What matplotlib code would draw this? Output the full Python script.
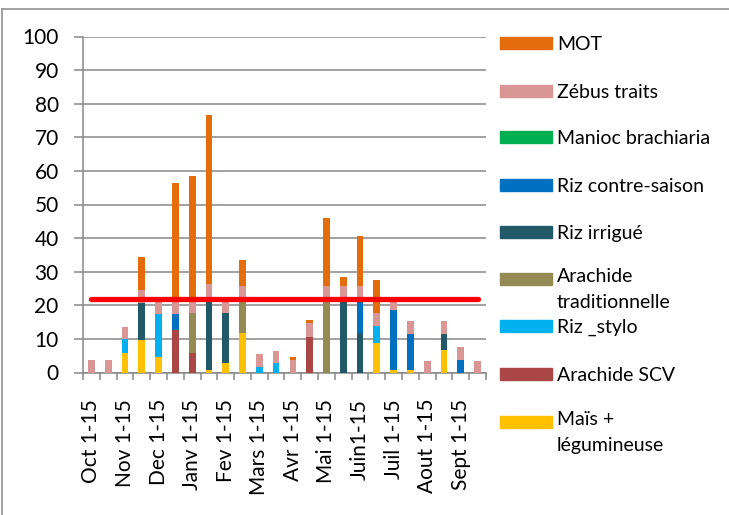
import numpy as np
import matplotlib.pyplot as plt
from matplotlib.patches import Rectangle
from matplotlib.lines import Line2D

plt.rcParams['font.family'] = ['Lato', 'DejaVu Sans']

# half-month periods, Oct -> Sept
periods = ['Oct 1-15', '', 'Nov 1-15', '', 'Dec 1-15', '', 'Janv 1-15', '',
           'Fev 1-15', '', 'Mars 1-15', '', 'Avr 1-15', '', 'Mai 1-15', '',
           'Juin1-15', '', 'Juil 1-15', '', 'Aout 1-15', '', 'Sept 1-15', '']

# working days per activity (stacked from bottom to top)
mais = [0, 0, 5.8, 9.8, 4.5, 0, 0, 0.7, 2.7, 11.8, 0, 0,
        0, 0, 0, 0, 0, 8.8, 0.7, 0.7, 0, 6.6, 0, 0]
arachide_scv = [0, 0, 0, 0, 0, 12.6, 5.8, 0, 0, 0, 0, 0,
                0, 10.6, 0, 0, 0, 0, 0, 0, 0, 0, 0, 0]
riz_stylo = [0, 0, 4.2, 0, 13.0, 0, 0, 0, 0, 0, 1.7, 2.7,
             0, 0, 0, 0, 0, 5.0, 0, 0, 0, 0, 0, 0]
arachide_trad = [0, 0, 0, 0, 0, 0, 11.9, 0, 0, 9.2, 0, 0,
                 0, 0, 21.0, 0, 0, 0, 0, 0, 0, 0, 0, 0]
riz_irrigue = [0, 0, 0, 10.9, 0, 0, 0, 20.3, 15.0, 0, 0, 0,
               0, 0, 0, 21.0, 11.8, 0, 0, 0, 0, 4.9, 0, 0]
riz_cs = [0, 0, 0, 0, 0, 4.8, 0, 0, 0, 0, 0, 0,
          0, 0, 0, 0, 9.2, 0, 17.9, 10.8, 0, 0, 3.7, 0]
manioc = [0] * 24
zebus = [3.7, 3.7, 3.6, 4.0, 3.6, 3.6, 3.3, 5.4, 3.3, 4.6, 3.8, 3.8,
         3.7, 4.0, 4.7, 4.7, 4.7, 3.8, 3.0, 3.9, 3.5, 3.9, 3.8, 3.5]
mot = [0, 0, 0, 9.8, 0, 35.3, 37.5, 50.3, 0, 7.9, 0, 0,
       0.8, 0.9, 20.3, 2.8, 15.0, 9.8, 0, 0, 0, 0, 0, 0]

seuil = 22

series = [
    ('Maïs +\nlégumineuse', mais, '#FFC000'),
    ('Arachide SCV', arachide_scv, '#AA4643'),
    ('Riz _stylo', riz_stylo, '#00B0F0'),
    ('Arachide\ntraditionnelle', arachide_trad, '#948A54'),
    ('Riz irrigué', riz_irrigue, '#215968'),
    ('Riz contre-saison', riz_cs, '#0070C0'),
    ('Manioc brachiaria', manioc, '#00B050'),
    ('Zébus traits', zebus, '#D99694'),
    ('MOT', mot, '#E46C0A'),
]

W, H = 729, 515
fig = plt.figure(figsize=(W / 100, H / 100), dpi=100)
ax = fig.add_axes([83 / W, 1 - 372.5 / H, (486 - 83) / W, (372.5 - 36.5) / H])

x = np.arange(len(periods))
bottom = np.zeros(len(periods))
for name, vals, col in series:
    ax.bar(x, vals, width=0.4, bottom=bottom, color=col, zorder=3)
    bottom += np.array(vals)

ax.plot([x[0], x[-1]], [seuil, seuil], color='#FF0000', lw=3.8,
        solid_capstyle='round', zorder=4)

grey = '#878787'
ax.set_ylim(0, 100)
ax.set_xlim(-0.5, len(periods) - 0.5)
ax.set_yticks(range(0, 101, 10))
ax.grid(axis='y', color=grey, lw=1.1, zorder=0)
for s in ['top', 'right']:
    ax.spines[s].set_visible(False)
for s in ['left', 'bottom']:
    ax.spines[s].set_color(grey)
    ax.spines[s].set_linewidth(1.1)
ax.tick_params(axis='y', length=6.5, width=1.1, color=grey, pad=11,
               labelsize=15)

# tick marks between categories, labels on the categories
ax.set_xticks(np.arange(-0.5, len(periods), 1))
ax.set_xticklabels([])
ax.tick_params(axis='x', which='major', length=5, width=1.1, color=grey)
ax.set_xticks(x, minor=True)
ax.set_xticklabels(periods, minor=True, rotation=90, fontsize=15)
ax.tick_params(axis='x', which='minor', length=0, pad=19)

# legend, top entry first
ys = [43, 91, 137, 185, 232, 279, 326, 374, 422]
for (name, vals, col), yy in zip(series[::-1], ys):
    fig.add_artist(Rectangle((500 / W, 1 - (yy + 6) / H), 52 / W, 12 / H,
                             transform=fig.transFigure, color=col))
    if '\n' in name:
        fig.text(557 / W, 1 - (yy - 11) / H, name, fontsize=14, va='top',
                 linespacing=1.62)
    else:
        fig.text(557 / W, 1 - yy / H, name, fontsize=14,
                 va='center_baseline')

# outer frame
fig.add_artist(Line2D([2 / W, 2 / W], [0, 1 - 9 / H], color='#9A9A9A',
                      lw=1.3, transform=fig.transFigure))
fig.add_artist(Line2D([2 / W, 1], [1 - 9 / H, 1 - 9 / H], color='#9A9A9A',
                      lw=1.3, transform=fig.transFigure))

fig.savefig('out.png', dpi=100)
